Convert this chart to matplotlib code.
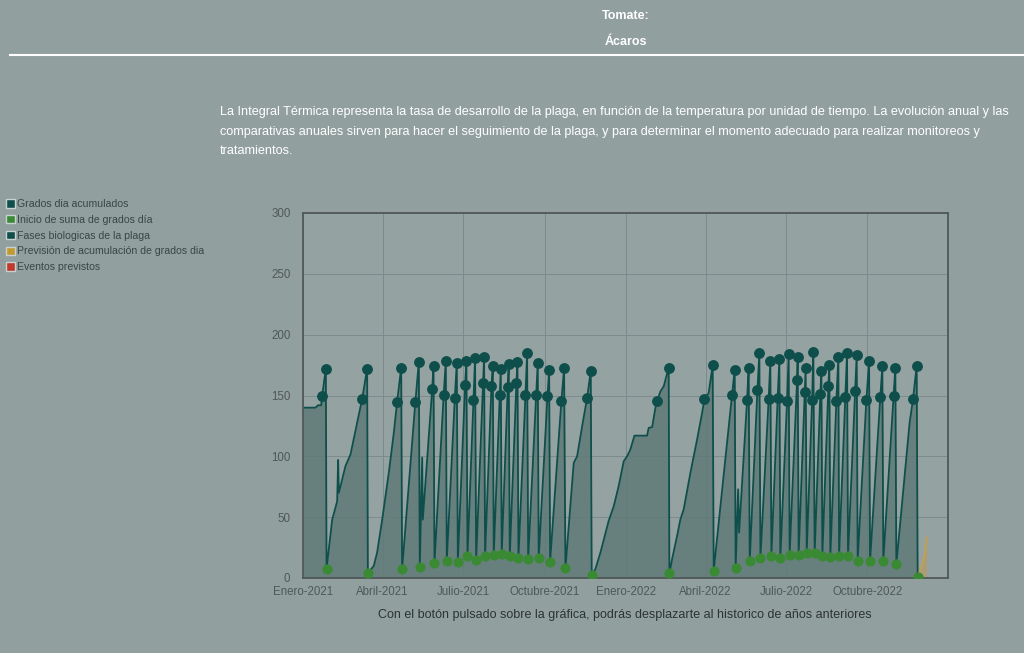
import pandas as pd
import matplotlib.pyplot as plt
import matplotlib.dates as mdates
from matplotlib.patches import Patch
from matplotlib.lines import Line2D

plt.rcParams['font.family'] = ['Liberation Sans', 'DejaVu Sans']

INICIO = pd.Timestamp('2021-01-01')

# vertices of the accumulated degree-day curve (days since 1-jan-2021)
dias = [0, 14, 17, 20.5, 21.7, 25.8, 26.6,
        33, 38.6, 39.7, 40.5, 48, 53.7, 66.9, 72.5, 73.3,
        80, 83.8, 89.5, 97, 102.6, 106.4, 111, 112,
        127, 130.9, 132, 134.7, 135.4, 146, 147.5, 148.6,
        159, 161.4, 162.5,
        171.6, 173.8, 175,
        183.2, 184.7, 185.9,
        192.7, 194.5, 195.7,
        203.6, 204.7, 205.8,
        213, 214.5, 215.6,
        222.4, 223.5, 224.6,
        231.4, 232.5, 233.7,
        241.2, 242.4, 243.5,
        251.4, 253.3, 254.5,
        263.5, 265.3, 266.4,
        276.3, 278.2, 279.3,
        292, 295.1, 296.6,
        306, 309.8, 315.5, 319.2, 321.1, 325.2, 326.3,
        330.5, 336.2, 345.5, 351.2, 356.8, 362.5, 366.3, 370, 374.6, 388.9,
        390.7, 394.6, 398.3, 400.2, 404, 407.7, 413.3, 414.1,
        417.2, 422.8, 426.6, 430.3, 437.9, 445.4, 451.1, 453.7, 458.5, 463, 464.2,
        485, 487.9, 489, 491.8, 492.9, 501.9, 503.7, 504.9,
        513.6, 515.8, 517,
        526.3, 528.2, 529.4,
        536.5, 538.4, 539.5,
        547.1, 548.9, 550,
        558.4, 559.1, 560.2,
        567, 568.1, 569.3,
        575.4, 576.8, 578.3,
        584.7, 585.9, 587,
        593.8, 594.9, 596,
        602.8, 605.1, 605.9,
        613, 614.9, 616,
        624, 625.8, 626.9,
        636.7, 639.8, 640.9,
        652.5, 654.8, 655.9,
        667.6, 669.5, 670.6,
        685.6, 689.5, 693.6, 694.7]

grados = [140, 140, 142, 142, 150, 172, 7.4,
          48, 63, 97, 70, 92, 101.6, 147.4, 172, 3.8,
          10, 21, 48, 86.6, 119, 145, 173, 7,
          144.7, 177.5, 9, 99, 48, 155, 174.4, 12.3,
          150.7, 178.3, 14.2,
          148.2, 176.6, 13.4,
          158.3, 178, 17.8,
          146.6, 180.7, 14.7,
          160.3, 182, 18.3,
          157.5, 173.9, 19.1,
          150.7, 171.7, 19.7,
          157, 175.5, 17.8,
          160.3, 177.5, 16.4,
          150.1, 184.8, 15.6,
          150.1, 176.6, 16.1,
          149.3, 170.6, 13.4,
          145.2, 172.2, 7.9,
          94.7, 100, 124.7, 139.8, 148, 170, 2.5,
          7.4, 21, 47, 59, 75.6, 96, 100, 105.6, 117, 117,
          123.4, 124, 139.8, 145.2, 153.4, 157.5, 173, 3.8,
          15.6, 34.6, 48.3, 56.5, 86.6, 113.8, 135.7, 147.2, 152, 174.7, 6,
          150.7, 171.2, 8.2, 72.9, 37.4, 146, 172.5, 13.7,
          154.8, 184.8, 16.1,
          147.2, 178.5, 18.3,
          148, 180.2, 16.1,
          145.8, 184, 18.8,
          162.4, 182, 18.8,
          152.6, 172.5, 20.5,
          146, 185.7, 20.5,
          151.3, 170.3, 18.3,
          157.5, 175.3, 17,
          145.2, 182, 18.3,
          148.8, 185.3, 17.8,
          153.4, 183.2, 14.2,
          146, 178, 13.7,
          148.8, 173.9, 14.2,
          149.9, 173, 11.2,
          127.5, 147.2, 174.4, 1]

# f = fase biologica, i = inicio de suma, - = plain vertex
tipo = ("----ffi" + "------ffi" + "-----ffi" + "ffi--ffi" + "ffi" * 13
        + "----ffi" + "-" * 13 + "f--fi" + "-" * 7 + "f-fi"
        + "ffi--ffi" + "ffi" * 15 + "-ffi")

prev_dias = [694.7, 696.2, 700, 702.6, 704.9]
prev_grados = [1, 3.3, 11.5, 18.3, 33.3]

meses = ['2021-01-01', '2021-04-01', '2021-07-01', '2021-10-01',
         '2022-01-01', '2022-04-01', '2022-07-01', '2022-10-01']
meses_txt = ['Enero-2021', 'Abril-2021', 'Julio-2021', 'Octubre-2021',
             'Enero-2022', 'Abril-2022', 'Julio-2022', 'Octubre-2022']

df = pd.DataFrame({'fecha': INICIO + pd.to_timedelta(dias, unit='D'),
                   'grados': grados, 'tipo': list(tipo)})
prev_fecha = INICIO + pd.to_timedelta(prev_dias, unit='D')

BG = '#929f9f'
LINE = '#0f4f4b'
GREEN = '#3a8a33'

fig = plt.figure(figsize=(10.24, 6.53), dpi=100, facecolor=BG)
ax = fig.add_axes([303 / 1024, 1 - 578 / 653, 645 / 1024, 365 / 653])
ax.set_facecolor('#95a2a2')

ax.fill_between(df.fecha, df.grados, 0, color='#5f7a78', alpha=0.85, lw=0)
ax.plot(df.fecha, df.grados, color=LINE, lw=1.3)
fases = df[df.tipo == 'f']
ax.plot(fases.fecha, fases.grados, 'o', color=LINE, ms=6.8, zorder=4)
inicios = df[df.tipo == 'i']
ax.plot(inicios.fecha, inicios.grados, 'o', color=GREEN, ms=6.3, zorder=5)
ax.fill_between(prev_fecha, prev_grados, 0, color='#b89a55', alpha=0.55, lw=0)
ax.plot(prev_fecha, prev_grados, color='#c9a046', lw=1.2)

ax.set_ylim(0, 300)
ax.set_xlim(pd.Timestamp('2021-01-01'), pd.Timestamp('2022-12-31'))
ax.set_yticks(range(0, 301, 50))
ax.set_xticks(pd.to_datetime(meses))
ax.set_xticklabels(meses_txt)
ax.grid(True, color='#7c8b8b', lw=0.7)
ax.set_axisbelow(True)
ax.tick_params(length=0, labelsize=8.3, colors='#4e5858')
ax.tick_params(axis='x', pad=6)
ax.tick_params(axis='y', pad=9)
for s in ax.spines.values():
    s.set_color('#505858')
    s.set_linewidth(1.3)

# header
fig.text(626 / 1024, 1 - 16 / 653, 'Tomate:', color='white', fontsize=9,
         fontweight='bold', ha='center', va='center')
fig.text(626 / 1024, 1 - 42 / 653, 'Ácaros', color='white', fontsize=9,
         fontweight='bold', ha='center', va='center')
fig.add_artist(Line2D([10 / 1024, 1], [1 - 55 / 653] * 2, color='white', lw=1.5))

parrafo = ['La Integral Térmica representa la tasa de desarrollo de la plaga, en función de la temperatura por unidad de tiempo. La evolución anual y las',
           'comparativas anuales sirven para hacer el seguimiento de la plaga, y para determinar el momento adecuado para realizar monitoreos y',
           'tratamientos.']
for k, linea in enumerate(parrafo):
    fig.text(220 / 1024, 1 - (112 + 19.5 * k) / 653, linea, color='white',
             fontsize=9.1, va='center')

fig.text(625 / 1024, 1 - 615 / 653,
         'Con el botón pulsado sobre la gráfica, podrás desplazarte al historico de años anteriores',
         color='#2b3333', fontsize=9, ha='center', va='center')

handles = [Patch(facecolor=LINE, edgecolor='#c9d2d2', label='Grados dia acumulados'),
           Patch(facecolor=GREEN, edgecolor='#c9d2d2', label='Inicio de suma de grados día'),
           Patch(facecolor=LINE, edgecolor='#c9d2d2', label='Fases biologicas de la plaga'),
           Patch(facecolor='#c29a30', edgecolor='#c9d2d2', label='Previsión de acumulación de grados dia'),
           Patch(facecolor='#c0392b', edgecolor='#c9d2d2', label='Eventos previstos')]
fig.legend(handles=handles, loc='upper left', bbox_to_anchor=(6 / 1024, 1 - 199 / 653),
           frameon=False, fontsize=7.6, labelcolor='#3a4646', handlelength=0.85,
           handleheight=0.85, handletextpad=0.15, labelspacing=0.55, borderpad=0,
           borderaxespad=0)

fig.savefig('out.png', dpi=100, facecolor=BG)
